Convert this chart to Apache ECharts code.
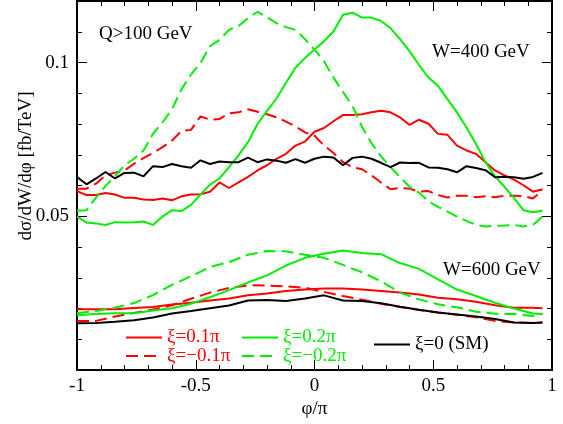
<!DOCTYPE html>
<html>
<head>
<meta charset="utf-8">
<script src="https://cdn.jsdelivr.net/npm/echarts@6/dist/echarts.min.js"></script>
<style>
    html, body { margin: 0; padding: 0; background: #fff; }
    #chart { width: 563px; height: 424px; }
</style>
</head>
<body>
<div id="chart"></div>
<script>
    // phi/pi sample points
    const phi400 = [-1, -0.96, -0.92, -0.88, -0.84, -0.8, -0.76, -0.72, -0.68, -0.64,
        -0.6, -0.56, -0.52, -0.48, -0.44, -0.4, -0.36, -0.32, -0.28, -0.24,
        -0.2, -0.16, -0.12, -0.08, -0.04, 0, 0.04, 0.08, 0.12, 0.16,
        0.2, 0.24, 0.28, 0.32, 0.36, 0.4, 0.44, 0.48, 0.52, 0.56,
        0.6, 0.64, 0.68, 0.72, 0.76, 0.8, 0.84, 0.88, 0.92, 0.96];
    const phi600 = [-1, -0.92, -0.84, -0.76, -0.68, -0.6, -0.52, -0.44, -0.36, -0.28,
        -0.2, -0.12, -0.04, 0.04, 0.12, 0.2, 0.28, 0.36, 0.44, 0.52,
        0.6, 0.68, 0.76, 0.84, 0.92, 0.96];

    // W=400 GeV
    const sm400 = [0.0628, 0.0604, 0.0623, 0.0644, 0.0623, 0.0641, 0.0642, 0.0630, 0.0663, 0.0660,
        0.0670, 0.0663, 0.0658, 0.0682, 0.0670, 0.0678, 0.0676, 0.0676, 0.0691, 0.0676,
        0.0685, 0.0681, 0.0674, 0.0686, 0.0674, 0.0687, 0.0694, 0.0691, 0.0666, 0.0690,
        0.0694, 0.0687, 0.0674, 0.0660, 0.0675, 0.0673, 0.0674, 0.0659, 0.0658, 0.0653,
        0.0643, 0.0663, 0.0657, 0.0650, 0.0627, 0.0629, 0.0627, 0.0622, 0.0628, 0.0641];
    const p01_400 = [0.0582, 0.0569, 0.0569, 0.0576, 0.0571, 0.0560, 0.0560, 0.0555, 0.0553, 0.0558,
        0.0552, 0.0565, 0.0571, 0.0572, 0.0580, 0.0610, 0.0592, 0.0610, 0.0628, 0.0649,
        0.0666, 0.0687, 0.0703, 0.0730, 0.0743, 0.0775, 0.0787, 0.0809, 0.0829, 0.0829,
        0.0832, 0.0838, 0.0843, 0.0838, 0.0822, 0.0797, 0.0814, 0.0801, 0.0768, 0.0765,
        0.0730, 0.0714, 0.0703, 0.0676, 0.0649, 0.0633, 0.0619, 0.0601, 0.0580, 0.0588];
    const m01_400 = [0.0590, 0.0590, 0.0606, 0.0633, 0.0642, 0.0649, 0.0671, 0.0689, 0.0706, 0.0725,
        0.0746, 0.0778, 0.0781, 0.0825, 0.0814, 0.0816, 0.0835, 0.0838, 0.0848, 0.0840,
        0.0832, 0.0822, 0.0808, 0.0792, 0.0773, 0.0762, 0.0730, 0.0706, 0.0676, 0.0660,
        0.0653, 0.0633, 0.0610, 0.0588, 0.0592, 0.0590, 0.0580, 0.0582, 0.0569, 0.0561,
        0.0567, 0.0567, 0.0562, 0.0565, 0.0562, 0.0567, 0.0567, 0.0566, 0.0558, 0.0585];
    const p02_400 = [0.0499, 0.0480, 0.0477, 0.0472, 0.0481, 0.0480, 0.0481, 0.0483, 0.0472, 0.0499,
        0.0520, 0.0517, 0.0537, 0.0571, 0.0603, 0.0623, 0.0660, 0.0698, 0.0741, 0.0800,
        0.0843, 0.0883, 0.0934, 0.0983, 0.1015, 0.1042, 0.1069, 0.1101, 0.1155, 0.1162,
        0.1146, 0.1146, 0.1135, 0.1112, 0.1076, 0.1037, 0.0992, 0.0951, 0.0924, 0.0881,
        0.0838, 0.0789, 0.0735, 0.0676, 0.0630, 0.0596, 0.0560, 0.0520, 0.0513, 0.0518];
    const m02_400 = [0.0518, 0.0520, 0.0561, 0.0598, 0.0631, 0.0666, 0.0687, 0.0714, 0.0768, 0.0805,
        0.0848, 0.0913, 0.0961, 0.0999, 0.1053, 0.1074, 0.1106, 0.1119, 0.1144, 0.1165,
        0.1147, 0.1128, 0.1115, 0.1106, 0.1076, 0.1042, 0.1004, 0.0951, 0.0904, 0.0859,
        0.0791, 0.0738, 0.0695, 0.0660, 0.0628, 0.0596, 0.0577, 0.0549, 0.0531, 0.0515,
        0.0499, 0.0485, 0.0472, 0.0467, 0.0469, 0.0470, 0.0472, 0.0467, 0.0472, 0.0499];

    // W=600 GeV
    const sm600 = [0.0152, 0.0153, 0.0157, 0.0162, 0.0171, 0.0184, 0.0192, 0.0201, 0.0210, 0.0226,
        0.0228, 0.0225, 0.0233, 0.0243, 0.0226, 0.0225, 0.0217, 0.0206, 0.0196, 0.0187,
        0.0181, 0.0174, 0.0166, 0.0155, 0.0153, 0.0155];
    const p01_600 = [0.0198, 0.0198, 0.0198, 0.0202, 0.0205, 0.0213, 0.0219, 0.0226, 0.0233, 0.0243,
        0.0249, 0.0257, 0.0262, 0.0265, 0.0265, 0.0262, 0.0257, 0.0252, 0.0246, 0.0235,
        0.0230, 0.0222, 0.0211, 0.0203, 0.0203, 0.0201];
    const m01_600 = [0.0160, 0.0160, 0.0174, 0.0186, 0.0197, 0.0211, 0.0232, 0.0252, 0.0267, 0.0276,
        0.0275, 0.0272, 0.0268, 0.0254, 0.0241, 0.0229, 0.0216, 0.0205, 0.0195, 0.0187,
        0.0180, 0.0172, 0.0160, 0.0155, 0.0153, 0.0155];
    const p02_600 = [0.0178, 0.0182, 0.0185, 0.0185, 0.0194, 0.0201, 0.0216, 0.0237, 0.0260, 0.0285,
        0.0308, 0.0340, 0.0365, 0.0378, 0.0389, 0.0381, 0.0377, 0.0348, 0.0329, 0.0295,
        0.0262, 0.0241, 0.0219, 0.0200, 0.0184, 0.0182];
    const m02_600 = [0.0185, 0.0192, 0.0203, 0.0218, 0.0244, 0.0277, 0.0305, 0.0335, 0.0351, 0.0375,
        0.0387, 0.0386, 0.0375, 0.0365, 0.0342, 0.0318, 0.0289, 0.0252, 0.0230, 0.0214,
        0.0204, 0.0190, 0.0183, 0.0182, 0.0176, 0.0182];

    const red = '#ff0000';
    const green = '#00ee00';
    const serif = 'Liberation Serif';

    function pairs(xs, ys) {
        return xs.map((x, i) => [x, ys[i]]);
    }

    function line(name, xs, ys, color, dashed) {
        return {
            name: name,
            type: 'line',
            data: pairs(xs, ys),
            symbol: 'none',
            showSymbol: false,
            silent: true,
            lineStyle: { color: color, width: 2, type: dashed ? [12, 6] : 'solid' },
            itemStyle: { color: color }
        };
    }

    const axisLine = { show: true, onZero: false, lineStyle: { color: '#000', width: 2 } };

    const xBase = {
        type: 'value', min: -1, max: 1, interval: 0.5,
        axisLine: axisLine,
        splitLine: { show: false },
        axisTick: { inside: true, length: 10, lineStyle: { color: '#000' } },
        minorTick: { show: true, splitNumber: 5, length: 5, lineStyle: { color: '#000' } }
    };

    const yBase = {
        type: 'value', min: 0, max: 0.12,
        axisLine: axisLine,
        splitLine: { show: false },
        axisLabel: { show: false }
    };
    const majorTick = { inside: true, length: 10, lineStyle: { color: '#000' } };
    const minorTickY = { inside: true, length: 5, lineStyle: { color: '#000' } };

    // plain text labels inside the plot
    function text(str, x, y, align, rotation) {
        return {
            type: 'text', x: x, y: y, silent: true, rotation: rotation || 0,
            style: {
                text: str, fill: '#000', fontFamily: serif, fontSize: 19,
                align: align, verticalAlign: 'middle', textAlign: align, textVerticalAlign: 'middle'
            }
        };
    }

    const legendText = { fontFamily: serif, fontSize: 19, lineHeight: 16 };
    const legendBase = {
        orient: 'vertical', selectedMode: false,
        itemWidth: 36, itemHeight: 12, itemGap: -0.5,
        itemStyle: { opacity: 0 },
        textStyle: legendText
    };

    const chart = echarts.init(document.getElementById('chart'));
    chart.setOption({
        animation: false,
        grid: { left: 77, right: 11, top: 1, bottom: 51 },
        xAxis: [
            Object.assign({}, xBase, {
                position: 'bottom',
                axisLabel: { fontFamily: serif, fontSize: 19, color: '#000', margin: 6 },
                name: 'φ/π', nameLocation: 'middle', nameGap: 22,
                nameTextStyle: { fontFamily: serif, fontSize: 19, color: '#000' }
            }),
            Object.assign({}, xBase, { position: 'top', axisLabel: { show: false } })
        ],
        yAxis: [
            Object.assign({}, yBase, {
                position: 'left', interval: 0.05, axisTick: majorTick,
                axisLabel: {
                    show: true, fontFamily: serif, fontSize: 19, color: '#000', margin: 8,
                    formatter: v => (Math.abs(v - 0.05) < 1e-9 || Math.abs(v - 0.1) < 1e-9) ? String(+v.toFixed(2)) : ''
                }
            }),
            Object.assign({}, yBase, { position: 'left', interval: 0.01, axisTick: minorTickY }),
            Object.assign({}, yBase, { position: 'right', interval: 0.05, axisTick: majorTick }),
            Object.assign({}, yBase, { position: 'right', interval: 0.01, axisTick: minorTickY })
        ],
        legend: [
            Object.assign({}, legendBase, {
                left: 120, top: 323,
                data: [
                    { name: 'ξ=0.1π', textStyle: { color: red } },
                    { name: 'ξ=−0.1π', textStyle: { color: red } }
                ]
            }),
            Object.assign({}, legendBase, {
                left: 236, top: 323,
                data: [
                    { name: 'ξ=0.2π', textStyle: { color: green } },
                    { name: 'ξ=−0.2π', textStyle: { color: green } }
                ]
            }),
            Object.assign({}, legendBase, {
                left: 368, top: 330,
                data: [{ name: 'ξ=0 (SM)', textStyle: { color: '#000' } }]
            })
        ],
        graphic: [
            text('Q>100 GeV', 99, 34, 'left'),
            text('W=400 GeV', 432, 52, 'left'),
            text('W=600 GeV', 443, 270, 'left'),
            text('dσ/dW/dφ [fb/TeV]', 26, 166, 'center', Math.PI / 2)
        ],
        series: [
            line('ξ=0.1π', phi400, p01_400, red, false),
            line('ξ=−0.1π', phi400, m01_400, red, true),
            line('ξ=0.2π', phi400, p02_400, green, false),
            line('ξ=−0.2π', phi400, m02_400, green, true),
            line('ξ=0 (SM)', phi400, sm400, '#000', false),
            line('ξ=0.1π', phi600, p01_600, red, false),
            line('ξ=−0.1π', phi600, m01_600, red, true),
            line('ξ=0.2π', phi600, p02_600, green, false),
            line('ξ=−0.2π', phi600, m02_600, green, true),
            line('ξ=0 (SM)', phi600, sm600, '#000', false)
        ]
    });
</script>
</body>
</html>
